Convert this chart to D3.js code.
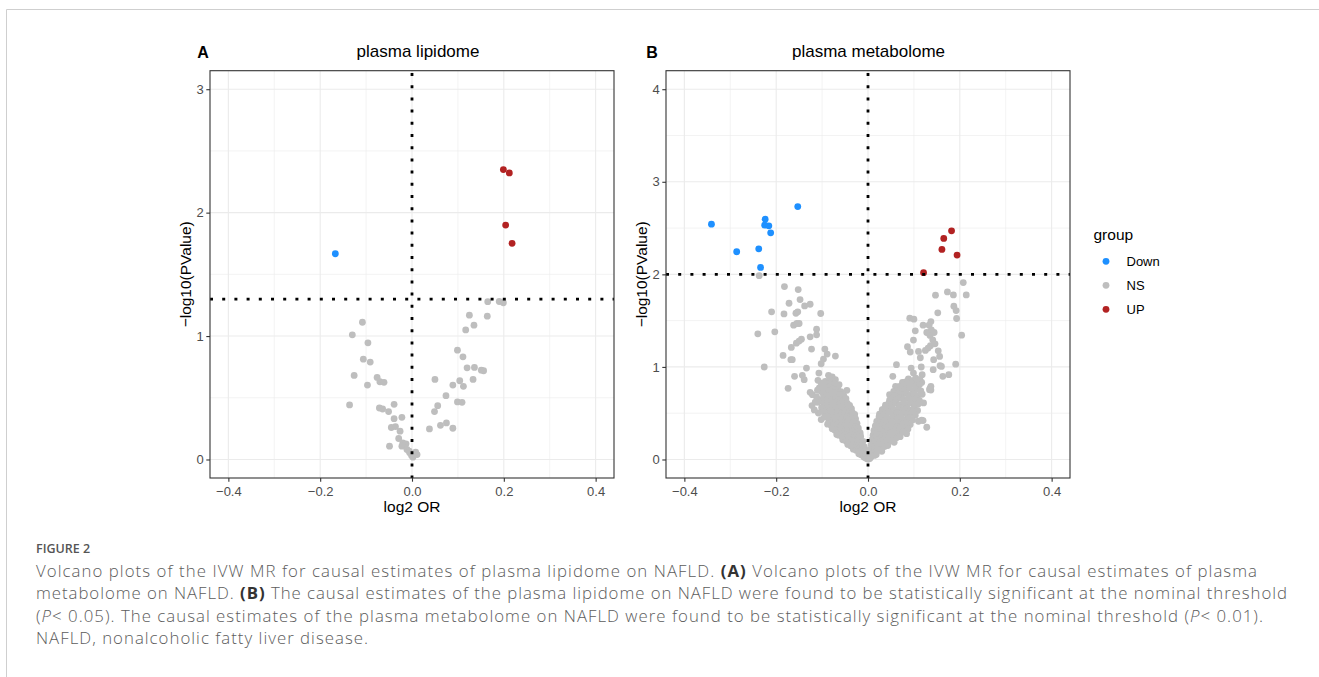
<!DOCTYPE html>
<html>
<head>
<meta charset="utf-8">
<script src="https://cdn.jsdelivr.net/npm/d3@7"></script>
<style>
  body { margin: 0; background: #fff; }
  svg { display: block; }
</style>
</head>
<body>
<svg id="fig" width="1319" height="677"></svg>
<script>
// ---- data: [log2 OR, -log10(P)] ----
var lipidUp = [[0.199, 2.349], [0.212, 2.322], [0.204, 1.899], [0.218, 1.751]];
var lipidDown = [[-0.167, 1.667]];
var lipidNS = [
  [0.165, 1.279], [0.190, 1.280], [0.199, 1.270], [0.125, 1.169], [0.164, 1.161], [0.135, 1.088],
  [0.117, 1.050], [-0.108, 1.112], [-0.130, 1.010], [-0.096, 0.945], [0.099, 0.886], [0.111, 0.832],
  [-0.106, 0.813], [-0.091, 0.789], [0.120, 0.743], [0.136, 0.746], [0.151, 0.724], [0.156, 0.719],
  [-0.126, 0.681], [-0.076, 0.665], [-0.070, 0.630], [-0.061, 0.625], [0.050, 0.649], [0.104, 0.638],
  [0.133, 0.649], [0.089, 0.603], [0.112, 0.593], [-0.097, 0.603], [0.074, 0.517], [0.099, 0.466],
  [0.109, 0.463], [-0.136, 0.442], [-0.039, 0.447], [-0.071, 0.417], [-0.064, 0.409], [-0.051, 0.388],
  [0.056, 0.436], [0.049, 0.388], [-0.022, 0.342], [-0.039, 0.331], [-0.045, 0.259], [-0.036, 0.267],
  [-0.026, 0.229], [0.038, 0.248], [0.062, 0.277], [0.075, 0.296], [0.089, 0.253], [-0.029, 0.170],
  [-0.020, 0.135], [-0.013, 0.127], [-0.049, 0.108], [-0.022, 0.108], [-0.011, 0.081], [-0.005, 0.054],
  [-0.001, 0.032], [0.008, 0.059], [0.011, 0.040], [0.002, 0.019], [-0.006, 0.067]
];

var metabUp = [[0.121, 2.018], [0.161, 2.269], [0.165, 2.388], [0.182, 2.470], [0.194, 2.208]];
var metabDown = [
  [-0.341, 2.542], [-0.286, 2.244], [-0.238, 2.276], [-0.234, 2.075], [-0.224, 2.596],
  [-0.225, 2.531], [-0.216, 2.524], [-0.212, 2.449], [-0.153, 2.732]
];
var metabNS = [
  // left arm, sparse upper part
  [-0.237, 1.986], [-0.182, 1.868], [-0.152, 1.835], [-0.148, 1.727], [-0.172, 1.688], [-0.138, 1.659],
  [-0.126, 1.677], [-0.210, 1.595], [-0.183, 1.573], [-0.157, 1.580], [-0.153, 1.595], [-0.103, 1.577],
  [-0.162, 1.451], [-0.155, 1.469], [-0.150, 1.469], [-0.240, 1.358], [-0.203, 1.379], [-0.112, 1.408],
  [-0.112, 1.347], [-0.126, 1.325], [-0.145, 1.300], [-0.150, 1.279], [-0.156, 1.257], [-0.167, 1.211],
  [-0.123, 1.193], [-0.094, 1.193], [-0.089, 1.139], [-0.097, 1.085], [-0.102, 1.034], [-0.071, 1.117],
  [-0.185, 1.124], [-0.168, 1.078], [-0.165, 1.078], [-0.226, 0.999], [-0.134, 0.988], [-0.160, 0.898],
  [-0.143, 0.909], [-0.139, 0.862], [-0.107, 0.934], [-0.086, 0.909], [-0.078, 0.891], [-0.071, 0.862],
  [-0.109, 0.855], [-0.102, 0.826], [-0.093, 0.844], [-0.174, 0.769], [-0.106, 0.773], [-0.102, 0.736],
  [-0.089, 0.754], [-0.126, 0.726], [-0.121, 0.700], [-0.066, 0.779], [-0.046, 0.747], [-0.082, 0.700],
  [-0.067, 0.682], [-0.122, 0.582], [-0.104, 0.647], [-0.093, 0.628], [-0.084, 0.611], [-0.075, 0.593],
  [-0.102, 0.431],
  // left arm, dense part
  [-0.083, 0.872], [-0.076, 0.845], [-0.088, 0.815], [-0.081, 0.801], [-0.072, 0.823], [-0.063, 0.808],
  [-0.098, 0.791], [-0.094, 0.762], [-0.085, 0.741], [-0.077, 0.766], [-0.070, 0.749], [-0.059, 0.733],
  [-0.110, 0.748], [-0.098, 0.712], [-0.091, 0.688], [-0.074, 0.719], [-0.061, 0.703], [-0.053, 0.691],
  [-0.112, 0.676], [-0.097, 0.663], [-0.087, 0.654], [-0.079, 0.641], [-0.071, 0.659], [-0.064, 0.646],
  [-0.056, 0.630], [-0.048, 0.656], [-0.109, 0.618], [-0.096, 0.601], [-0.089, 0.584], [-0.069, 0.613],
  [-0.062, 0.597], [-0.054, 0.589], [-0.045, 0.606], [-0.040, 0.583], [-0.101, 0.561], [-0.093, 0.547],
  [-0.085, 0.563], [-0.078, 0.546], [-0.070, 0.556], [-0.061, 0.539], [-0.052, 0.553], [-0.044, 0.537],
  [-0.036, 0.549], [-0.097, 0.516], [-0.089, 0.501], [-0.082, 0.521], [-0.074, 0.504], [-0.066, 0.513],
  [-0.058, 0.497], [-0.050, 0.509], [-0.041, 0.494], [-0.034, 0.506], [-0.029, 0.487], [-0.090, 0.469],
  [-0.083, 0.454], [-0.076, 0.471], [-0.069, 0.451], [-0.062, 0.463], [-0.055, 0.447], [-0.047, 0.459],
  [-0.040, 0.443], [-0.033, 0.456], [-0.027, 0.439], [-0.085, 0.419], [-0.078, 0.404], [-0.071, 0.421],
  [-0.064, 0.397], [-0.057, 0.413], [-0.050, 0.399], [-0.044, 0.411], [-0.037, 0.394], [-0.030, 0.406],
  [-0.024, 0.391], [-0.080, 0.366], [-0.072, 0.351], [-0.066, 0.371], [-0.059, 0.354], [-0.052, 0.363],
  [-0.046, 0.347], [-0.039, 0.359], [-0.033, 0.343], [-0.027, 0.354], [-0.021, 0.339], [-0.072, 0.316],
  [-0.065, 0.301], [-0.058, 0.319], [-0.052, 0.299], [-0.045, 0.311], [-0.039, 0.295], [-0.033, 0.306],
  [-0.027, 0.291], [-0.021, 0.301], [-0.017, 0.287], [-0.064, 0.263], [-0.057, 0.249], [-0.050, 0.266],
  [-0.044, 0.247], [-0.038, 0.259], [-0.032, 0.244], [-0.026, 0.253], [-0.021, 0.239], [-0.016, 0.249],
  [-0.055, 0.213], [-0.048, 0.199], [-0.042, 0.215], [-0.036, 0.197], [-0.030, 0.207], [-0.025, 0.191],
  [-0.020, 0.201], [-0.015, 0.187], [-0.011, 0.196], [-0.044, 0.163], [-0.038, 0.149], [-0.032, 0.159],
  [-0.026, 0.144], [-0.021, 0.153], [-0.016, 0.139], [-0.012, 0.149], [-0.008, 0.135], [-0.032, 0.111],
  [-0.026, 0.099], [-0.021, 0.109], [-0.016, 0.094], [-0.012, 0.103], [-0.008, 0.089], [-0.005, 0.099],
  [-0.020, 0.061], [-0.015, 0.051], [-0.011, 0.059], [-0.007, 0.045], [-0.004, 0.053], [-0.002, 0.039],
  [-0.009, 0.026], [-0.005, 0.017], [-0.002, 0.011], [-0.001, 0.006], [-0.115, 0.620], [-0.108, 0.502],
  [-0.095, 0.458], [-0.088, 0.381], [-0.078, 0.331], [-0.068, 0.271], [-0.117, 0.535],
  // right arm, sparse upper part
  [0.2075, 1.911], [0.173, 1.810], [0.186, 1.778], [0.214, 1.778], [0.147, 1.775], [0.187, 1.656],
  [0.192, 1.609], [0.152, 1.584], [0.193, 1.523], [0.091, 1.527], [0.100, 1.516], [0.137, 1.490],
  [0.120, 1.451], [0.133, 1.451], [0.128, 1.372], [0.138, 1.401], [0.144, 1.372], [0.135, 1.340],
  [0.103, 1.390], [0.204, 1.343], [0.099, 1.290], [0.141, 1.293], [0.136, 1.229], [0.131, 1.204],
  [0.125, 1.178], [0.086, 1.218], [0.092, 1.161], [0.110, 1.167], [0.114, 1.099], [0.143, 1.078],
  [0.157, 1.013], [0.142, 0.970], [0.191, 1.030], [0.062, 1.024], [0.094, 0.988], [0.116, 0.999],
  [0.099, 0.934], [0.176, 0.916], [0.163, 0.898], [0.054, 0.898], [0.160, 1.005], [0.146, 1.250],
  [0.153, 1.174], [0.156, 1.113], [0.135, 0.768], [0.137, 0.750], [0.121, 0.611], [0.120, 0.420],
  [0.128, 0.348], [0.110, 0.413], [0.117, 0.424], [0.118, 0.916], [0.113, 0.862], [0.110, 0.819],
  [0.117, 0.833], [0.075, 0.833], [0.069, 0.790], [0.060, 0.790], [0.056, 0.736], [0.047, 0.700],
  [0.137, 0.790], [0.134, 0.754],
  // right arm, dense part
  [0.088, 0.870], [0.097, 0.852], [0.104, 0.880], [0.082, 0.838], [0.108, 0.845], [0.079, 0.812],
  [0.088, 0.799], [0.095, 0.822], [0.103, 0.794], [0.112, 0.808], [0.085, 0.781], [0.072, 0.762],
  [0.080, 0.749], [0.090, 0.768], [0.098, 0.744], [0.106, 0.758], [0.115, 0.741], [0.063, 0.746],
  [0.066, 0.712], [0.074, 0.699], [0.083, 0.718], [0.092, 0.694], [0.100, 0.708], [0.108, 0.689],
  [0.118, 0.705], [0.058, 0.690], [0.054, 0.655], [0.062, 0.648], [0.070, 0.663], [0.078, 0.644],
  [0.087, 0.658], [0.095, 0.639], [0.104, 0.653], [0.112, 0.637], [0.047, 0.641], [0.045, 0.604],
  [0.053, 0.597], [0.061, 0.613], [0.069, 0.589], [0.077, 0.605], [0.085, 0.591], [0.093, 0.609],
  [0.101, 0.587], [0.110, 0.601], [0.038, 0.587], [0.036, 0.553], [0.044, 0.544], [0.052, 0.561],
  [0.060, 0.539], [0.068, 0.556], [0.076, 0.537], [0.084, 0.551], [0.092, 0.534], [0.100, 0.549],
  [0.108, 0.529], [0.031, 0.539], [0.030, 0.506], [0.038, 0.494], [0.046, 0.511], [0.054, 0.489],
  [0.062, 0.503], [0.070, 0.487], [0.078, 0.501], [0.086, 0.484], [0.094, 0.499], [0.103, 0.479],
  [0.025, 0.491], [0.024, 0.459], [0.032, 0.444], [0.040, 0.461], [0.048, 0.441], [0.056, 0.456],
  [0.064, 0.437], [0.072, 0.451], [0.080, 0.431], [0.089, 0.447], [0.097, 0.427], [0.019, 0.411],
  [0.027, 0.397], [0.035, 0.413], [0.043, 0.391], [0.051, 0.406], [0.059, 0.387], [0.067, 0.401],
  [0.075, 0.384], [0.084, 0.397], [0.092, 0.377], [0.016, 0.363], [0.023, 0.349], [0.030, 0.365],
  [0.038, 0.344], [0.046, 0.357], [0.054, 0.339], [0.062, 0.353], [0.070, 0.334], [0.079, 0.347],
  [0.087, 0.329], [0.013, 0.313], [0.020, 0.299], [0.027, 0.316], [0.034, 0.295], [0.042, 0.307],
  [0.050, 0.289], [0.058, 0.303], [0.066, 0.285], [0.075, 0.297], [0.084, 0.279], [0.011, 0.263],
  [0.017, 0.249], [0.024, 0.265], [0.031, 0.244], [0.038, 0.257], [0.046, 0.239], [0.054, 0.251],
  [0.062, 0.234], [0.070, 0.246], [0.009, 0.213], [0.015, 0.199], [0.021, 0.215], [0.027, 0.194],
  [0.034, 0.206], [0.041, 0.189], [0.049, 0.199], [0.057, 0.185], [0.007, 0.161], [0.012, 0.147],
  [0.018, 0.163], [0.024, 0.144], [0.030, 0.156], [0.036, 0.139], [0.043, 0.151], [0.005, 0.109],
  [0.009, 0.097], [0.014, 0.111], [0.019, 0.093], [0.024, 0.103], [0.030, 0.089], [0.003, 0.059],
  [0.006, 0.047], [0.010, 0.061], [0.014, 0.044], [0.018, 0.053], [0.002, 0.023], [0.004, 0.012],
  [0.001, 0.005], [0.007, 0.029]
];

var groups = ['Down', 'NS', 'UP'];
var groupColors = ['#1E90FF', '#BEBEBE', '#B22222'];
var xTicks = [-0.4, -0.2, 0.0, 0.2, 0.4];
var xMinor = [-0.3, -0.1, 0.1, 0.3];

var captionLines = [
  [['Volcano plots of the IVW MR for causal estimates of plasma lipidome on NAFLD. ', ''], ['(A)', 'b'], [' Volcano plots of the IVW MR for causal estimates of plasma', '']],
  [['metabolome on NAFLD. ', ''], ['(B)', 'b'], [' The causal estimates of the plasma lipidome on NAFLD were found to be statistically significant at the nominal threshold', '']],
  [['(', ''], ['P', 'i'], ['< 0.05). The causal estimates of the plasma metabolome on NAFLD were found to be statistically significant at the nominal threshold (', ''], ['P', 'i'], ['< 0.01).', '']],
  [['NAFLD, nonalcoholic fatty liver disease.', '']]
];

var svg = d3.select('#fig');
var color = d3.scaleOrdinal(groups, groupColors);
var plotFont = '"Liberation Sans", Arial, Helvetica, sans-serif';

svg.append('rect').attr('width', 1319).attr('height', 677).attr('fill', '#fff');

// frame lines of the figure box
svg.append('path')
  .attr('d', 'M6.5,677 V9.5 H1319')
  .attr('fill', 'none').attr('stroke', '#cfcfcf').attr('stroke-width', 1);

function drawPanel(opt) {
  var x = d3.scaleLinear().domain([-0.44, 0.44]).range([opt.left, opt.left + 404]);
  var y = d3.scaleLinear().domain(opt.yDomain).range([478, 70.7]);
  var g = svg.append('g');

  // grid
  var grid = g.append('g');
  grid.selectAll('.vminor').data(xMinor).join('line')
    .attr('x1', x).attr('x2', x).attr('y1', 70.7).attr('y2', 478)
    .attr('stroke', '#ebebeb').attr('stroke-width', 0.6);
  grid.selectAll('.hminor').data(opt.yMinor).join('line')
    .attr('y1', y).attr('y2', y).attr('x1', opt.left).attr('x2', opt.left + 404)
    .attr('stroke', '#ebebeb').attr('stroke-width', 0.6);
  grid.selectAll('.vmajor').data(xTicks).join('line')
    .attr('x1', x).attr('x2', x).attr('y1', 70.7).attr('y2', 478)
    .attr('stroke', '#ebebeb').attr('stroke-width', 1.1);
  grid.selectAll('.hmajor').data(opt.yTicks).join('line')
    .attr('y1', y).attr('y2', y).attr('x1', opt.left).attr('x2', opt.left + 404)
    .attr('stroke', '#ebebeb').attr('stroke-width', 1.1);

  // points
  var pts = g.append('g');
  [['NS', opt.ns], ['Down', opt.down], ['UP', opt.up]].forEach(function (s) {
    pts.selectAll(null).data(s[1]).join('circle')
      .attr('cx', function (d) { return x(d[0]); })
      .attr('cy', function (d) { return y(d[1]); })
      .attr('r', 3.4)
      .attr('fill', color(s[0]));
  });

  // threshold lines
  g.append('line')
    .attr('x1', opt.left).attr('x2', opt.left + 404)
    .attr('y1', y(opt.threshold)).attr('y2', y(opt.threshold))
    .attr('stroke', '#000').attr('stroke-width', 2.8).attr('stroke-dasharray', '3 9.2');
  g.append('line')
    .attr('x1', x(0)).attr('x2', x(0)).attr('y1', 73).attr('y2', 478)
    .attr('stroke', '#000').attr('stroke-width', 2.8).attr('stroke-dasharray', '3 9.2');

  // border
  g.append('rect')
    .attr('x', opt.left).attr('y', 70.7).attr('width', 404).attr('height', 407.3)
    .attr('fill', 'none').attr('stroke', '#333').attr('stroke-width', 1.1);

  // axes
  var xAxis = g.append('g').attr('transform', 'translate(0,478)')
    .call(d3.axisBottom(x).tickValues(xTicks).tickFormat(d3.format('.1f')).tickSize(3.7).tickPadding(5));
  var yAxis = g.append('g').attr('transform', 'translate(' + opt.left + ',0)')
    .call(d3.axisLeft(y).tickValues(opt.yTicks).tickFormat(d3.format('d')).tickSize(3.7).tickPadding(2.5));
  [xAxis, yAxis].forEach(function (a) {
    a.select('.domain').remove();
    a.selectAll('line').attr('stroke', '#333').attr('stroke-width', 1.1);
    a.selectAll('text').attr('fill', '#4d4d4d').style('font-family', plotFont).style('font-size', '13px');
  });
  xAxis.selectAll('text').text(function (d) { return d3.format('.1f')(d).replace('-', '\u2212'); });

  // titles
  g.append('text').attr('x', opt.titleX).attr('y', 57)
    .attr('text-anchor', 'middle').style('font-family', plotFont).style('font-size', '17px')
    .text(opt.title);
  g.append('text').attr('x', opt.tagX).attr('y', 57.5)
    .attr('text-anchor', 'middle').style('font-family', plotFont).style('font-size', '16px')
    .style('font-weight', 'bold').text(opt.tag);
  g.append('text').attr('x', x(0)).attr('y', 511.5)
    .attr('text-anchor', 'middle').style('font-family', plotFont).style('font-size', '15.5px')
    .text('log2 OR');
  g.append('text')
    .attr('transform', 'translate(' + (opt.left - 19.5) + ',274.3) rotate(-90)')
    .attr('text-anchor', 'middle').style('font-family', plotFont).style('font-size', '15.5px')
    .text('\u2212log10(PValue)');
}

drawPanel({
  left: 210, yDomain: [-0.15, 3.15], yTicks: [0, 1, 2, 3], yMinor: [0.5, 1.5, 2.5],
  threshold: 1.3, ns: lipidNS, down: lipidDown, up: lipidUp,
  title: 'plasma lipidome', titleX: 418, tag: 'A', tagX: 203
});
drawPanel({
  left: 666, yDomain: [-0.2, 4.2], yTicks: [0, 1, 2, 3, 4], yMinor: [0.5, 1.5, 2.5, 3.5],
  threshold: 2, ns: metabNS, down: metabDown, up: metabUp,
  title: 'plasma metabolome', titleX: 868.5, tag: 'B', tagX: 652
});

// legend
var legend = svg.append('g').style('font-family', plotFont);
legend.append('text').attr('x', 1093.5).attr('y', 240).style('font-size', '15.5px').text('group');
var item = legend.selectAll('.item').data(groups).join('g')
  .attr('transform', function (d, i) { return 'translate(1106,' + (261.3 + i * 24) + ')'; });
item.append('circle').attr('r', 3.4).attr('fill', function (d) { return color(d); });
item.append('text').attr('x', 20.5).attr('y', 4.6).style('font-size', '13px').text(function (d) { return d; });

// caption: each line is spread to the width it takes in the figure
var capFont = '"Open Sans", "Noto Sans", sans-serif';
var capLeft = 36;
var capRight = [1257, 1287, 1263, 368];
svg.append('text').attr('x', capLeft).attr('y', 553)
  .style('font-family', capFont).style('font-size', '12.5px').style('font-weight', 600)
  .attr('fill', '#555').text('FIGURE 2');
captionLines.forEach(function (line, i) {
  var t = svg.append('text').attr('x', capLeft).attr('y', 576.5 + i * 22.5)
    .style('font-family', capFont).style('font-size', '16.8px').style('font-weight', 300)
    .attr('fill', '#5c5c5c');
  line.forEach(function (part) {
    var s = t.append('tspan').text(part[0]);
    if (part[1] === 'b') s.style('font-weight', 700).attr('fill', '#333');
    if (part[1] === 'i') s.style('font-style', 'italic');
  });
  var len = t.node().getComputedTextLength();
  var n = t.text().length;
  t.style('letter-spacing', ((capRight[i] - capLeft - len) / (n - 1)) + 'px');
});
</script>
</body>
</html>
